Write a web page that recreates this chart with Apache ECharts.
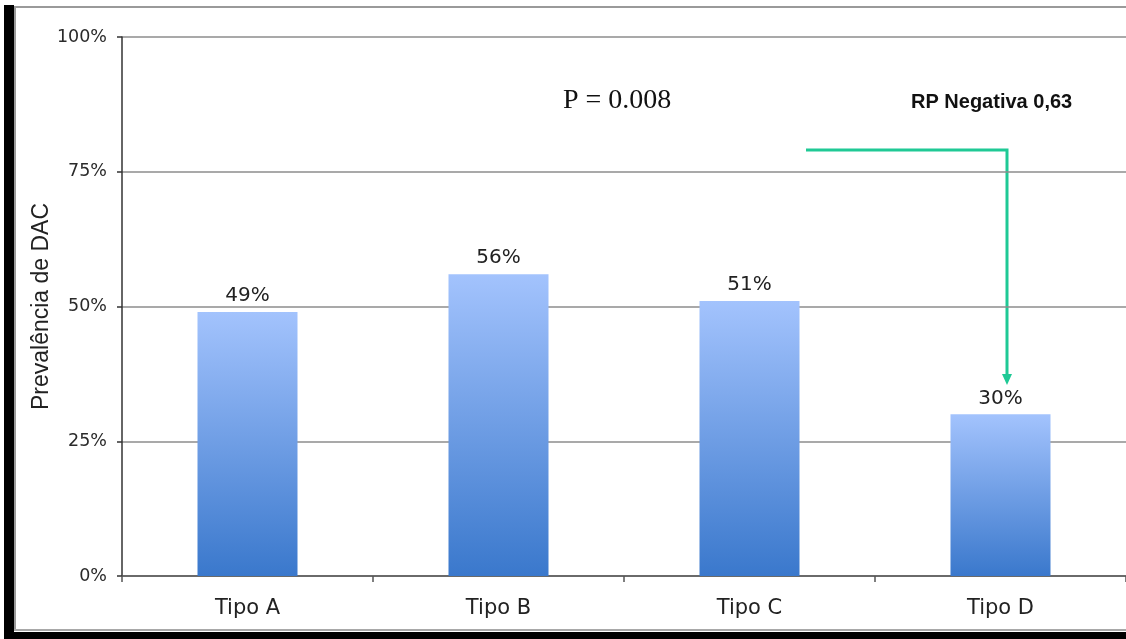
<!DOCTYPE html>
<html>
<head>
<meta charset="utf-8">
<title>Prevalência de DAC por tipo</title>
<script src="https://cdn.jsdelivr.net/npm/echarts@6/dist/echarts.min.js"></script>
<style>
  html, body { margin: 0; padding: 0; background: #fff; }
  #chart { width: 1126px; height: 639px; }
</style>
</head>
<body>
<div id="chart"></div>
<script>
// Categories and prevalence (%) per type
const categories = ['Tipo A', 'Tipo B', 'Tipo C', 'Tipo D'];
const prevalence = [49, 56, 51, 30];
// Y axis ticks (%)
const yTicks = [0, 25, 50, 75, 100];

const pText = 'P = 0.008';
const rpText = 'RP Negativa 0,63';

const sansFont = '"DejaVu Sans", Verdana, sans-serif';
const arrowColor = '#1fc995';

const chart = echarts.init(document.getElementById('chart'), null, { renderer: 'canvas' });

chart.setOption({
  backgroundColor: '#ffffff',
  animation: false,
  grid: { left: 122, top: 37, width: 1008, height: 539, containLabel: false },
  xAxis: {
    type: 'category',
    data: categories,
    axisLine: { show: true, lineStyle: { color: '#555555', width: 1.5 } },
    axisTick: { show: true, alignWithLabel: false, length: 6, lineStyle: { color: '#555555', width: 1.5 } },
    axisLabel: { fontFamily: sansFont, fontSize: 21, color: '#222222', margin: 22 },
    splitLine: { show: false }
  },
  yAxis: {
    type: 'value',
    min: yTicks[0],
    max: yTicks[yTicks.length - 1],
    interval: yTicks[1] - yTicks[0],
    name: 'Prevalência de DAC',
    nameLocation: 'middle',
    nameRotate: 90,
    nameGap: 69,
    nameMoveOverlap: false,
    nameTextStyle: { fontFamily: '"Liberation Sans", Arial, sans-serif', fontSize: 23, color: '#222222' },
    axisLine: { show: true, lineStyle: { color: '#333333', width: 1.5 } },
    axisTick: { show: true, inside: false, length: 5, lineStyle: { color: '#333333', width: 1.5 } },
    axisLabel: {
      fontFamily: sansFont, fontSize: 17.5, color: '#2a2a2a', margin: 15,
      formatter: v => v + '%'
    },
    splitLine: { show: true, lineStyle: { color: '#8c8c8c', width: 1.5 } }
  },
  series: [{
    type: 'bar',
    data: prevalence,
    barWidth: 100,
    itemStyle: {
      color: new echarts.graphic.LinearGradient(0, 0, 0, 1, [
        { offset: 0, color: '#a3c3fd' },
        { offset: 1, color: '#3a78cc' }
      ])
    },
    label: {
      show: true,
      position: 'top',
      distance: 6,
      fontFamily: sansFont,
      fontSize: 20,
      color: '#222222',
      formatter: p => p.value + '%'
    }
  }],
  graphic: [
    // Page frame
    { type: 'rect', shape: { x: 4, y: 5, width: 10, height: 634 }, style: { fill: '#000000' }, silent: true },
    { type: 'rect', shape: { x: 4, y: 632, width: 1122, height: 7 }, style: { fill: '#000000' }, silent: true },
    { type: 'line', shape: { x1: 15, y1: 7, x2: 15, y2: 630 }, style: { stroke: '#9a9a9a', lineWidth: 2 }, silent: true },
    { type: 'line', shape: { x1: 14, y1: 7, x2: 1126, y2: 7 }, style: { stroke: '#9a9a9a', lineWidth: 2 }, silent: true },
    { type: 'line', shape: { x1: 14, y1: 630, x2: 1126, y2: 630 }, style: { stroke: '#a8a8a8', lineWidth: 2 }, silent: true },
    // Annotations
    {
      type: 'text', left: 563, top: 87, silent: true,
      style: { text: pText, font: '28px "Liberation Serif", "Times New Roman", serif', fill: '#111111' }
    },
    {
      type: 'text', left: 911, top: 92, silent: true,
      style: { text: rpText, font: 'bold 20px "Liberation Sans", Arial, sans-serif', fill: '#111111' }
    },
    // Connector arrow pointing down to Tipo D
    {
      type: 'polyline', silent: true,
      shape: { points: [[806, 150], [1007, 150], [1007, 377]] },
      style: { stroke: arrowColor, lineWidth: 3, fill: null }
    },
    {
      type: 'polygon', silent: true,
      shape: { points: [[1002, 374], [1012, 374], [1007, 385]] },
      style: { fill: arrowColor }
    }
  ]
});
</script>
</body>
</html>
